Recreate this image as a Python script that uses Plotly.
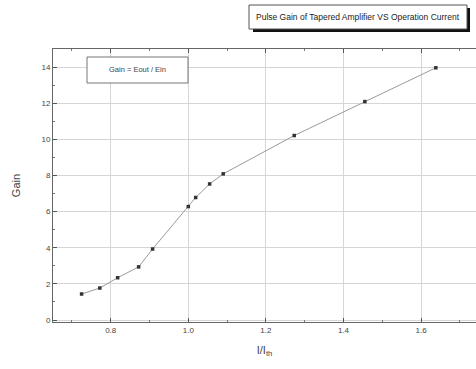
import plotly.graph_objects as go

# Operating current normalised to threshold, and measured pulse gain
current_ratio = [0.725, 0.772, 0.818, 0.872, 0.908, 1.000, 1.019, 1.055, 1.090, 1.273, 1.455, 1.638]
gain = [1.44, 1.77, 2.34, 2.94, 3.93, 6.28, 6.78, 7.53, 8.09, 10.21, 12.09, 13.96]

title_text = "Pulse Gain of Tapered Amplifier VS Operation Current"
note_text = "Gain = Eout / Ein"

W, H = 476, 369
ML, MT, MB, MR = 53, 49, 47, 0
PW, PH = W - ML - MR, H - MT - MB


def px(x):
    return (x - ML) / PW


def py(y):
    return (H - MB - y) / PH


fig = go.Figure()
fig.add_trace(go.Scatter(
    x=current_ratio, y=gain, mode="lines+markers",
    line=dict(color="#9a9a9a", width=1),
    marker=dict(symbol="square", size=3.5, color="#333333"),
    showlegend=False,
))

axis_font = dict(family="Arial, Liberation Sans", size=8, color="#444444")

fig.update_layout(
    width=W, height=H,
    margin=dict(l=ML, r=MR, t=MT, b=MB),
    paper_bgcolor="white", plot_bgcolor="white",
    xaxis=dict(
        range=[0.6513, 1.7415], tick0=0.8, dtick=0.2, tickformat=".1f",
        ticks="inside", ticklen=4, tickcolor="#555", mirror="allticks",
        showline=True, linecolor="#666", linewidth=1,
        showgrid=True, gridcolor="#d6d6d6", gridwidth=1, zeroline=False,
        tickfont=axis_font,
        minor=dict(dtick=0.1, ticks="inside", ticklen=2, tickcolor="#777", showgrid=False),
        title=dict(text="I/I<sub>th</sub>", font=dict(family="Arial, Liberation Sans", size=11, color="#444"),
                   standoff=12),
    ),
    yaxis=dict(
        range=[-0.11, 15.0], tick0=0, dtick=2,
        ticks="inside", ticklen=4, tickcolor="#555", mirror=False,
        showline=True, linecolor="#666", linewidth=1,
        showgrid=True, gridcolor="#d6d6d6", gridwidth=1, zeroline=False,
        tickfont=axis_font,
        minor=dict(dtick=1, ticks="inside", ticklen=2, tickcolor="#777", showgrid=False),
        title=dict(text="Gain", font=dict(family="Arial, Liberation Sans", size=11, color="#444"),
                   standoff=18),
    ),
    shapes=[
        # drop shadow behind the title frame
        dict(type="rect", xref="paper", yref="paper",
             x0=px(253), x1=px(470), y0=py(32), y1=py(8),
             fillcolor="#111111", line=dict(width=0), layer="above"),
        dict(type="rect", xref="paper", yref="paper",
             x0=px(249), x1=px(467), y0=py(29), y1=py(5),
             fillcolor="white", line=dict(color="#555", width=1), layer="above"),
        # note box inside the plot
        dict(type="rect", xref="paper", yref="paper",
             x0=px(87), x1=px(188), y0=py(83), y1=py(57),
             fillcolor="white", line=dict(color="#777", width=1), layer="above"),
    ],
    annotations=[
        dict(text=title_text, xref="paper", yref="paper", x=px(358), y=py(17),
             showarrow=False, xanchor="center", yanchor="middle",
             font=dict(family="Arial, Liberation Sans", size=8.5, color="#222")),
        dict(text=note_text, xref="paper", yref="paper", x=px(137.5), y=py(70),
             showarrow=False, xanchor="center", yanchor="middle",
             font=dict(family="Arial, Liberation Sans", size=7.5, color="#444")),
    ],
)

fig.write_html("out.html")
